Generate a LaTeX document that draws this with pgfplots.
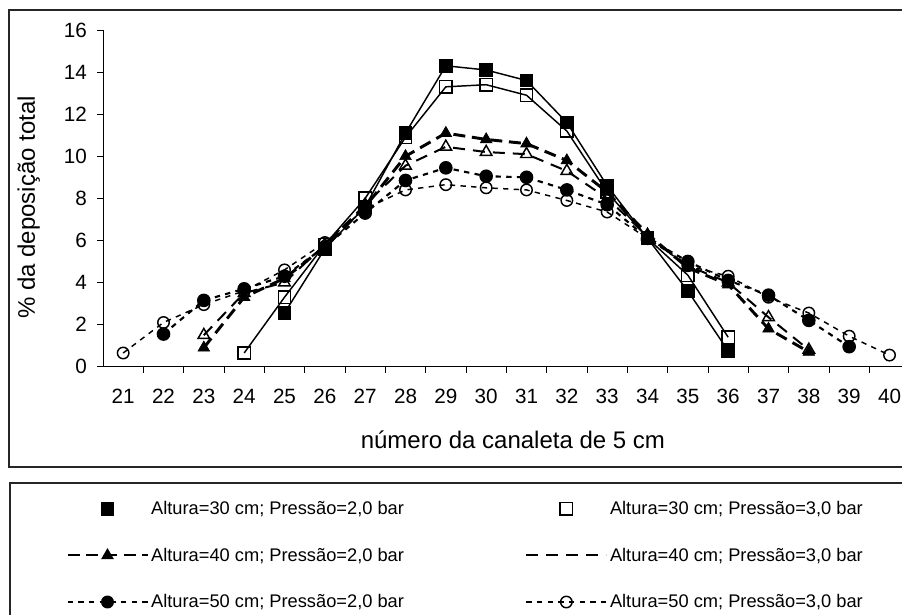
\documentclass[border=0pt]{standalone}
\usepackage{fontspec}
\setmainfont{Liberation Sans}
\usepackage{pgfplots}
\pgfplotsset{compat=1.18}
\pgfplotsset{
  leg marks/.style={legend image code/.code={\draw[##1] plot[only marks] coordinates {(30pt,0pt)};}},
  leg line/.style={legend image code/.code={\draw[##1, mark=none] (0pt,0pt) -- (60pt,0pt);}},
  leg thick/.style={legend image code/.code={\draw[##1, line width=1.5pt, mark repeat=2, mark phase=2] plot coordinates {(0pt,0pt)(30pt,0pt)(60pt,0pt)};}},
  leg mid/.style={legend image code/.code={\draw[##1, line width=1.1pt, mark repeat=2, mark phase=2] plot coordinates {(0pt,0pt)(30pt,0pt)(60pt,0pt)};}},
}

\pgfplotstableread{
x y
25 2.55
26 5.6
27 7.6
28 11.1
29 14.3
30 14.1
31 13.6
32 11.6
33 8.6
34 6.1
35 3.6
36 0.75
}\tA
\pgfplotstableread{
x y
24 0.65
25 3.3
26 5.8
27 8.0
28 10.9
29 13.3
30 13.4
31 12.9
32 11.2
33 8.3
34 6.1
35 4.35
36 1.4
}\tB
\pgfplotstableread{
x y
23 0.9
24 3.3
25 4.2
26 5.7
27 7.6
28 10.0
29 11.1
30 10.8
31 10.6
32 9.8
33 8.3
34 6.3
35 4.7
36 3.9
37 1.8
38 0.7
}\tC
\pgfplotstableread{
x y
23 1.5
24 3.5
25 4.0
26 5.8
27 7.7
28 9.55
29 10.45
30 10.2
31 10.1
32 9.3
33 8.0
34 6.2
35 4.8
36 4.0
37 2.35
38 0.8
}\tD
\pgfplotstableread{
x y
22 1.55
23 3.15
24 3.7
25 4.3
26 5.7
27 7.3
28 8.85
29 9.45
30 9.05
31 9.0
32 8.4
33 7.7
34 6.1
35 5.0
36 4.1
37 3.4
38 2.2
39 0.95
}\tE
\pgfplotstableread{
x y
21 0.65
22 2.1
23 2.95
24 3.6
25 4.6
26 5.9
27 7.5
28 8.4
29 8.65
30 8.5
31 8.4
32 7.9
33 7.35
34 6.1
35 4.8
36 4.3
37 3.3
38 2.55
39 1.45
40 0.55
}\tF

\begin{document}
\begin{tikzpicture}
\useasboundingbox (0,0) rectangle (676.5pt,-461.25pt);
\draw[line width=1.1pt, black!85] (676.5pt,-7.5pt) -- (6.75pt,-7.5pt) -- (6.75pt,-350.25pt) -- (676.5pt,-350.25pt);
\draw[line width=1.1pt, black!85] (676.5pt,-362.25pt) -- (7.5pt,-362.25pt) -- (7.5pt,-461.25pt);
\begin{axis}[
  at={(77.25pt,-275pt)}, anchor=south west,
  scale only axis, width=599.25pt, height=252.5pt,
  xmin=20.5, xmax=40.31, ymin=0, ymax=16,
  axis x line=bottom, axis y line=left,
  axis line style={-, line width=0.75pt, black},
  xtick={21.5,22.5,...,39.5}, xticklabels={},
  extra x ticks={21,22,...,40},
  extra x tick labels={21,22,23,24,25,26,27,28,29,30,31,32,33,34,35,36,37,38,39,40},
  extra x tick style={major tick length=0pt},
  ytick={0,2,...,16},
  tick align=outside, major tick length=4.5pt,
  tick style={black, line width=0.75pt},
  /pgf/number format/assume math mode=true,
  tick label style={font=\fontsize{15.5pt}{17pt}\selectfont},
  xticklabel style={yshift=-13pt},
  yticklabel style={xshift=-4pt},
  ylabel={\% da deposição total},
  xlabel={número da canaleta de 5 cm},
  label style={font=\fontsize{18pt}{20pt}\selectfont},
  ylabel style={at={(axis description cs:-0.093,0.473)}, anchor=center},
  xlabel style={at={(axis description cs:0.513,-0.218)}, anchor=center},
  clip=false,
  legend columns=2,
  legend style={draw=none, fill=none, inner sep=0pt,
    at={(axis description cs:-0.046,-0.391)}, anchor=north west,
    font=\fontsize{13.7pt}{15pt}\selectfont,
    row sep=19.5pt,
    /tikz/every even column/.append style={column sep=89pt}},
  legend cell align=left,
  every axis plot/.append style={black},
]
\addplot[solid, line width=1.1pt, mark=square*, mark size=4.6pt,
  mark options={solid}, leg marks]
  table[x=x,y=y]{\tA};
\addlegendentry{Altura=30 cm; Pressão=2,0 bar}
\addplot[solid, line width=1.1pt, mark=square, mark size=4.6pt,
  mark options={solid, line width=1.1pt}, leg marks]
  table[x=x,y=y]{\tB};
\addlegendentry{Altura=30 cm; Pressão=3,0 bar}
\addplot[line width=2.2pt, dash pattern=on 9pt off 5pt, mark=triangle*, mark size=5pt,
  mark options={solid, line width=0.5pt}, leg thick]
  table[x=x,y=y]{\tC};
\addlegendentry{Altura=40 cm; Pressão=2,0 bar}
\addplot[line width=1.5pt, dash pattern=on 9pt off 6pt, mark=triangle, mark size=5pt,
  mark options={solid, line width=1.1pt}, leg line]
  table[x=x,y=y]{\tD};
\addlegendentry{Altura=40 cm; Pressão=3,0 bar}
\addplot[line width=1.6pt, dash pattern=on 4pt off 4pt, mark=*, mark size=4.3pt,
  mark options={solid}, leg mid]
  table[x=x,y=y]{\tE};
\addlegendentry{Altura=50 cm; Pressão=2,0 bar}
\addplot[line width=1.1pt, dash pattern=on 4pt off 4pt, mark=o, mark size=4.3pt,
  mark options={solid, line width=1.1pt}, leg mid]
  table[x=x,y=y]{\tF};
\addlegendentry{Altura=50 cm; Pressão=3,0 bar}
\end{axis}
\end{tikzpicture}
\end{document}
